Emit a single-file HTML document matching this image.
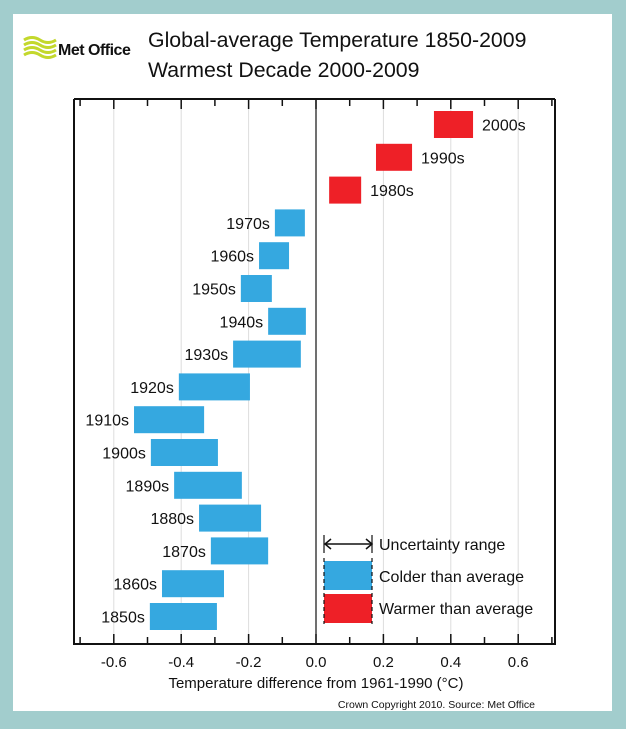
<!DOCTYPE html>
<html><head><meta charset="utf-8"><style>
body{margin:0;background:#a2cdcd;}
#wrap{position:relative;width:626px;height:729px;background:#a2cdcd;overflow:hidden;font-family:"Liberation Sans",sans-serif;}
#panel{position:absolute;left:13px;top:14px;width:599px;height:697px;background:#fff;}
svg{position:absolute;left:0;top:0;}
</style></head><body>
<div id="wrap">
<div id="panel"></div>
<svg id="chart" width="626" height="729"></svg>
</div>
<script>
const decades=["2000s","1990s","1980s","1970s","1960s","1950s","1940s","1930s","1920s","1910s","1900s","1890s","1880s","1870s","1860s","1850s"];
const lowVals=[0.35,0.178,0.039,-0.122,-0.169,-0.223,-0.142,-0.246,-0.407,-0.540,-0.490,-0.421,-0.347,-0.312,-0.457,-0.493];
const highVals=[0.466,0.285,0.134,-0.033,-0.080,-0.131,-0.030,-0.045,-0.196,-0.332,-0.291,-0.220,-0.163,-0.142,-0.273,-0.294];
const tickLabels=["-0.6","-0.4","-0.2","0.0","0.2","0.4","0.6"];
const tickVals=[-0.6,-0.4,-0.2,0,0.2,0.4,0.6];

const NS="http://www.w3.org/2000/svg";
const svg=document.getElementById('chart');
const L=74,R=555,T=99,B=644,X0=316,K=337;
const x=v=>X0+v*K;
const y=i=>124.5+i*32.8;
function el(tag,attrs,parent){const e=document.createElementNS(NS,tag);for(const k in attrs)e.setAttribute(k,attrs[k]);(parent||svg).appendChild(e);return e;}
function txt(s,attrs){const t=el('text',attrs);t.textContent=s;return t;}

const logo=el('g',{});


for(let i=0;i<4;i++){el('path',{d:`M24 ${40+i*5} q8 -5 16 0 t16 0`,stroke:'#c3d82c','stroke-width':3,fill:'none'},logo);}
const lt=txt('Met Office',{x:58,y:55,'font-size':16,'font-weight':'bold',fill:'#111','letter-spacing':'-0.5'});


const t1=txt('Global-average Temperature 1850-2009',{x:148,y:47,'font-size':21.3,fill:'#111'});


const t2=txt('Warmest Decade 2000-2009',{x:148,y:77,'font-size':21.3,fill:'#111'});



tickVals.forEach(v=>{if(v!==0){const g=el('line',{x1:x(v),x2:x(v),y1:T,y2:B,stroke:'#ddd','stroke-width':1});

}});
const z=el('line',{x1:x(0),x2:x(0),y1:T,y2:B,stroke:'#111','stroke-width':1.2});


const fr=el('path',{d:`M${L} ${T} H${R} M${L} ${T} V${B} H${R} V${T}`,stroke:'#111','stroke-width':2,fill:'none'});


for(let k=-7;k<=7;k++){const v=k/10;const xx=x(v);if(xx<L+2||xx>R-2)continue;
 const len=(k%2===0)?10:7;
 el('line',{x1:xx,x2:xx,y1:T,y2:T+len,stroke:'#111','stroke-width':1.5});
 el('line',{x1:xx,x2:xx,y1:B,y2:B-len,stroke:'#111','stroke-width':1.5});}
tickLabels.forEach((s,i)=>{const t=txt(s,{x:x(tickVals[i]),y:667,'font-size':15,'text-anchor':'middle',fill:'#111'});

});
const xt=txt('Temperature difference from 1961-1990 (°C)',{x:316,y:688,'font-size':15,'text-anchor':'middle',fill:'#111'});



decades.forEach((d,i)=>{
 const lo=lowVals[i],hi=highVals[i];const warm=(lo+hi)/2>0;
 const r=el('rect',{x:x(lo),y:y(i)-13.5,width:x(hi)-x(lo),height:27,fill:warm?'#ee2027':'#35a8e0'});
 
 
 const t=warm?txt(d,{x:x(hi)+9,y:y(i)+6,'font-size':16,fill:'#111'}):txt(d,{x:x(lo)-5,y:y(i)+6,'font-size':16,'text-anchor':'end',fill:'#111'});
 
 
});

const lg=el('g',{});


el('line',{x1:325,x2:372,y1:544,y2:544,stroke:'#111','stroke-width':1.5},lg);
el('path',{d:'M331 539 L325 544 L331 549 M366 539 L372 544 L366 549',stroke:'#111','stroke-width':1.5,fill:'none'},lg);
el('line',{x1:324,x2:324,y1:535,y2:553,stroke:'#111','stroke-width':1.2},lg);
el('line',{x1:372,x2:372,y1:535,y2:553,stroke:'#111','stroke-width':1.2},lg);
el('rect',{x:324,y:561,width:48,height:29,fill:'#35a8e0'},lg);
el('rect',{x:324,y:594,width:48,height:29,fill:'#ee2027'},lg);
el('line',{x1:324,x2:324,y1:558,y2:624,stroke:'#111','stroke-width':1.2,'stroke-dasharray':'4 3'},lg);
el('line',{x1:372,x2:372,y1:558,y2:624,stroke:'#111','stroke-width':1.2,'stroke-dasharray':'4 3'},lg);
[['Uncertainty range',550],['Colder than average',582],['Warmer than average',614]].forEach(([s,yy])=>{
 const t=txt(s,{x:379,y:yy,'font-size':16,fill:'#111'});lg.appendChild(t);});
const cp=txt('Crown Copyright 2010. Source: Met Office',{x:535,y:708,'font-size':10.5,'text-anchor':'end',fill:'#111'});


</script>
</body></html>
